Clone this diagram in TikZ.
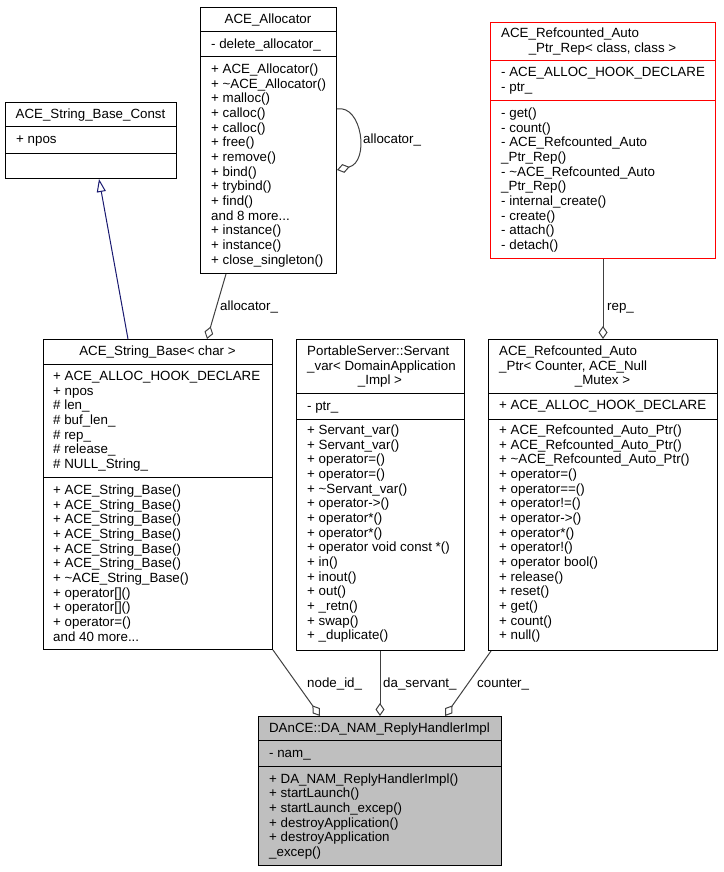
\documentclass[tikz,border=0pt]{standalone}
\usepackage{fontspec}
\setmainfont{Liberation Sans}
\usetikzlibrary{arrows.meta,calc}
\newcommand\dfont{\fontsize{13.33}{14.67}\selectfont}
\newcommand\tdots{...}
\newcommand\txtlines[5][txt]{%
  \foreach \ltext [count=\i from 0] in {#5} {%
    \node[#1] (#2-\i) at (#3, #4+\i*14.67) {\ltext};}}
\definecolor{edgegray}{HTML}{404040}
\definecolor{inhblue}{HTML}{191970}
\definecolor{boxgray}{HTML}{BFBFBF}
\begin{document}
\begin{tikzpicture}[x=1pt,y=-1pt,
  box/.style={draw=black,line width=1pt,inner sep=0pt,anchor=north west,fill=white},
  sep/.style={draw=black,line width=1pt},
  txt/.style={anchor=base west,inner sep=0pt,font=\dfont},
  ctxt/.style={anchor=base,inner sep=0pt,font=\dfont},
  lbl/.style={anchor=base west,inner sep=0pt,font=\dfont},
  agg/.style={draw=edgegray,line width=1pt,-{Diamond[open,length=13pt,width=9pt,fill=white]}},
  inh/.style={draw=inhblue,line width=1pt,-{Triangle[open,length=13pt,width=9pt,fill=white]}}]
\useasboundingbox (0,0) rectangle (723,872);

% ---------- boxes ----------
\node[box,minimum width=171pt,minimum height=76pt] (const) at (5,102) {};
\node[box,minimum width=136pt,minimum height=266pt] (alloc) at (200,7) {};
\node[box,draw=red,minimum width=225pt,minimum height=236pt] (rep) at (490,22) {};
\node[box,minimum width=229pt,minimum height=310pt] (strbase) at (43,339) {};
\node[box,minimum width=168pt,minimum height=311pt] (servant) at (296,339) {};
\node[box,minimum width=229pt,minimum height=311pt] (autoptr) at (488,339) {};
\node[box,fill=boxgray,minimum width=243pt,minimum height=149pt] (danam) at (258,716) {};

% ---------- separators ----------
\draw[sep] (const.west |- 0,127) -- (const.east |- 0,127);
\draw[sep] (const.west |- 0,153) -- (const.east |- 0,153);
\draw[sep] (alloc.west |- 0,32) -- (alloc.east |- 0,32);
\draw[sep] (alloc.west |- 0,57) -- (alloc.east |- 0,57);
\draw[sep,draw=red] (rep.west |- 0,61) -- (rep.east |- 0,61);
\draw[sep,draw=red] (rep.west |- 0,101) -- (rep.east |- 0,101);
\draw[sep] (strbase.west |- 0,364) -- (strbase.east |- 0,364);
\draw[sep] (strbase.west |- 0,477) -- (strbase.east |- 0,477);
\draw[sep] (servant.west |- 0,393) -- (servant.east |- 0,393);
\draw[sep] (servant.west |- 0,419) -- (servant.east |- 0,419);
\draw[sep] (autoptr.west |- 0,393) -- (autoptr.east |- 0,393);
\draw[sep] (autoptr.west |- 0,419) -- (autoptr.east |- 0,419);
\draw[sep] (danam.west |- 0,740) -- (danam.east |- 0,740);
\draw[sep] (danam.west |- 0,766) -- (danam.east |- 0,766);

% ---------- texts ----------
% ACE_String_Base_Const
\node[ctxt] (const-t) at (90.5,118.5) {ACE\_String\_Base\_Const};
\node[txt] (const-a) at (16,143.5) {+ npos};

% ACE_Allocator
\node[ctxt] (alloc-t) at (268,23.5) {ACE\_Allocator};
\node[txt] (alloc-a) at (211,48.5) {- delete\_allocator\_};
\txtlines{alloc-m}{211}{73.5}{+ ACE\_Allocator(),+ \textasciitilde ACE\_Allocator(),+ malloc(),+ calloc(),+ calloc(),+ free(),+ remove(),+ bind(),+ trybind(),+ find(),and 8 more\tdots,+ instance(),+ instance(),+ close\_singleton()}

% ACE_Refcounted_Auto_Ptr_Rep
\node[txt] (rep-t0) at (501,37.5) {ACE\_Refcounted\_Auto};
\node[ctxt] (rep-t1) at (602.5,52.2) {\_Ptr\_Rep< class, class >};
\txtlines{rep-a}{501}{76.5}{- ACE\_ALLOC\_HOOK\_DECLARE,- ptr\_}
\txtlines{rep-m}{501}{117.5}{- get(),- count(),- ACE\_Refcounted\_Auto,\_Ptr\_Rep(),- \textasciitilde ACE\_Refcounted\_Auto,\_Ptr\_Rep(),- internal\_create(),- create(),- attach(),- detach()}

% ACE_String_Base< char >
\node[ctxt] (strbase-t) at (157.5,355.5) {ACE\_String\_Base< char >};
\txtlines{strbase-a}{53}{380.5}{+ ACE\_ALLOC\_HOOK\_DECLARE,+ npos,\# len\_,\# buf\_len\_,\# rep\_,\# release\_,\# NULL\_String\_}
\txtlines{strbase-m}{53}{494.5}{+ ACE\_String\_Base(),+ ACE\_String\_Base(),+ ACE\_String\_Base(),+ ACE\_String\_Base(),+ ACE\_String\_Base(),+ ACE\_String\_Base(),+ \textasciitilde ACE\_String\_Base(),+ operator[](),+ operator[](),+ operator=(),and 40 more\tdots}

% PortableServer::Servant_var< DomainApplication_Impl >
\node[txt] (servant-t0) at (307,355.5) {PortableServer::Servant};
\node[txt] (servant-t1) at (307,370.2) {\_var< DomainApplication};
\node[ctxt] (servant-t2) at (380,384.9) {\_Impl >};
\node[txt] (servant-a) at (307,410.5) {- ptr\_};
\txtlines{servant-m}{307}{434.5}{+ Servant\_var(),+ Servant\_var(),+ operator=(),+ operator=(),+ \textasciitilde Servant\_var(),+ operator->(),+ operator*(),+ operator*(),+ operator void const *(),+ in(),+ inout(),+ out(),+ \_retn(),+ swap(),+ \_duplicate()}

% ACE_Refcounted_Auto_Ptr< Counter, ACE_Null_Mutex >
\node[txt] (autoptr-t0) at (499,355.5) {ACE\_Refcounted\_Auto};
\node[txt] (autoptr-t1) at (499,370.2) {\_Ptr< Counter, ACE\_Null};
\node[ctxt] (autoptr-t2) at (602.5,384.9) {\_Mutex >};
\node[txt] (autoptr-a) at (499,409.5) {+ ACE\_ALLOC\_HOOK\_DECLARE};
\txtlines{autoptr-m}{499}{434.5}{+ ACE\_Refcounted\_Auto\_Ptr(),+ ACE\_Refcounted\_Auto\_Ptr(),+ \textasciitilde ACE\_Refcounted\_Auto\_Ptr(),+ operator=(),+ operator==(),+ operator!=(),+ operator->(),+ operator*(),+ operator!(),+ operator bool(),+ release(),+ reset(),+ get(),+ count(),+ null()}

% DAnCE::DA_NAM_ReplyHandlerImpl
\node[ctxt] (danam-t) at (379.5,732.5) {DAnCE::DA\_NAM\_ReplyHandlerImpl};
\node[txt] (danam-a) at (269,757.5) {- nam\_};
\txtlines{danam-m}{269}{783}{+ DA\_NAM\_ReplyHandlerImpl(),+ startLaunch(),+ startLaunch\_excep(),+ destroyApplication(),+ destroyApplication,\_excep()}

% ---------- connectors ----------
\draw[inh] (strbase.north -| 128,0) -- (const.south -| 99,0);
\draw[agg] (alloc.south -| 226,0) -- (strbase.north -| 207,0);
\draw[agg] (alloc.east |- 0,109) .. controls (362,104) and (370,162) .. (alloc.east |- 0,170);
\draw[agg] (rep.south) -- (autoptr.north -| rep.south);
\draw[agg] (strbase.south east) -- (danam.north -| 320,0);
\draw[agg] (servant.south -| 380,0) -- (danam.north -| 380,0);
\draw[agg] (autoptr.south -| 491,0) -- (danam.north -| 445,0);

% ---------- connector labels ----------
\node[lbl] (l-selfalloc) at (363,143) {allocator\_};
\node[lbl] (l-alloc) at (220,310.5) {allocator\_};
\node[lbl] (l-rep) at (607,310) {rep\_};
\node[lbl] (l-node) at (307,687.5) {node\_id\_};
\node[lbl] (l-serv) at (383,687.5) {da\_servant\_};
\node[lbl] (l-count) at (477,687.5) {counter\_};
\end{tikzpicture}
\end{document}
